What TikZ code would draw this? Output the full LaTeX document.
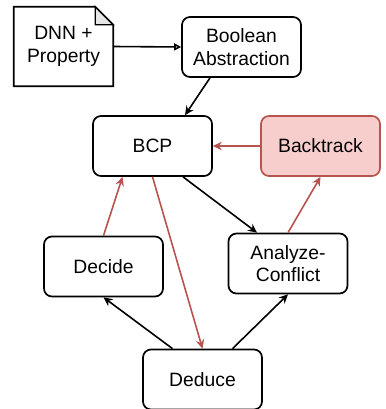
\documentclass[tikz,border=0pt]{standalone}
\usepackage{fontspec}
\setmainfont{Liberation Sans}
\usetikzlibrary{arrows.meta,calc}
\definecolor{redline}{HTML}{B85450}
\definecolor{redfill}{HTML}{F8CECC}
\definecolor{foldgray}{HTML}{E6E6E6}
\tikzset{
  box/.style={draw=black, line width=1.7pt, rounded corners=8pt, minimum width=119pt, minimum height=60pt, align=center, inner sep=2pt, font=\fontsize{19.3}{22.5}\selectfont},
  redbox/.style={box, draw=redline, fill=redfill},
  docnode/.style={minimum width=99pt, minimum height=79pt, align=center, inner sep=0pt, font=\fontsize{19.3}{22.5}\selectfont},
  blk/.style={draw=black, line width=1.6pt, -{Stealth[length=9pt,width=8.5pt,inset=3pt]}},
  redarr/.style={draw=redline, line width=1.6pt, -{Stealth[length=9pt,width=8.5pt,inset=3pt]}},
  openarr/.style={draw=black, line width=1.6pt, -{Triangle[open,length=7pt,width=7pt]}},
}
\begin{document}
\begin{tikzpicture}[x=1pt,y=-1pt]
\useasboundingbox (0,0) rectangle (385,409);
\node[docnode] (dnn) at (63.5,46.5) {DNN +\\Property};
\draw[line width=1.7pt, fill=white] (dnn.south west) -- (dnn.north west) -- ($(dnn.north east)+(-18,0)$) -- ($(dnn.north east)+(0,18)$) -- (dnn.south east) -- cycle;
\draw[line width=1.3pt, fill=foldgray] ($(dnn.north east)+(-18,0)$) -- ($(dnn.north east)+(-18,18)$) -- ($(dnn.north east)+(0,18)$) -- cycle;
\node[docnode] at (dnn) {DNN +\\Property};
\node[box] (bool) at (241.5,47) {Boolean\\Abstraction};
\node[box] (bcp) at (152.5,146) {BCP};
\node[redbox] (back) at (320.5,146) {Backtrack};
\node[box] (decide) at (103.5,266.5) {Decide};
\node[box] (analyze) at (288,263.5) {Analyze-\\Conflict};
\node[box] (deduce) at (202.5,379.5) {Deduce};

\draw[openarr] (dnn.east) -- (bool.west);
\draw[blk] ($(bool.south)+(-31.5,0)$) -- ($(bcp.north)+(32.5,0)$);
\draw[blk] ($(bcp.south)+(30.5,0)$) -- ($(analyze.north)+(-31,0)$);
\draw[redarr] (back.west) -- (bcp.east);
\draw[redarr] (analyze.north) -- (back.south);
\draw[redarr] (decide.north) -- ($(bcp.south)+(-30,0)$);
\draw[redarr] (bcp.south) -- (deduce.north);
\draw[blk] ($(deduce.north)+(-30,0)$) -- (decide.south);
\draw[blk] ($(deduce.north)+(30,0)$) -- (analyze.south);
\end{tikzpicture}
\end{document}
